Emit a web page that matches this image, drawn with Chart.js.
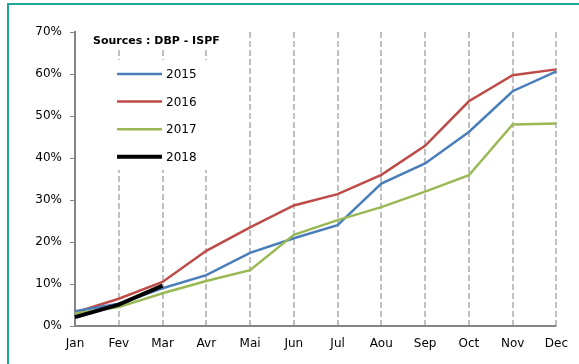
<!DOCTYPE html>
<html>
<head>
<meta charset="utf-8">
<script src="https://cdn.jsdelivr.net/npm/chart.js@4/dist/chart.umd.min.js"></script>
<style>
  html, body { margin: 0; padding: 0; background: #fff; }
  #wrap { position: relative; width: 579px; height: 364px; overflow: hidden; }
  #frame { position: absolute; left: 7px; top: 3px; width: 600px; height: 400px;
           border-top: 2px solid #1fa898; border-left: 2px solid #1fa898; }
  canvas { position: absolute; left: 0; top: 0; }
</style>
</head>
<body>
<div id="wrap">
  <div id="frame"></div>
  <canvas id="chart" width="579" height="364"></canvas>
</div>
<script>
const months = ['Jan', 'Fev', 'Mar', 'Avr', 'Mai', 'Jun', 'Jul', 'Aou', 'Sep', 'Oct', 'Nov', 'Dec'];
const y2015 = [3.5, 5.3, 9.0, 12.1, 17.4, 20.9, 24.0, 33.9, 38.7, 46.2, 55.9, 60.6];
const y2016 = [3.2, 6.5, 10.5, 17.9, 23.5, 28.7, 31.4, 36.0, 42.9, 53.5, 59.7, 61.1];
const y2017 = [3.0, 4.5, 7.8, 10.7, 13.3, 21.7, 25.2, 28.3, 32.0, 35.9, 48.0, 48.2];
const y2018 = [2.1, 5.1, 9.6];
const yTicks = [0, 10, 20, 30, 40, 50, 60, 70];
const sourceText = 'Sources : DBP - ISPF';

const FONT = 'Tahoma, "DejaVu Sans", sans-serif';
Chart.defaults.font.family = FONT;
Chart.defaults.font.size = 12;
Chart.defaults.color = '#000';

// legend box drawn inside the plot, on top of the grid
const boxLegend = {
  id: 'boxLegend',
  beforeDatasetsDraw(chart) {
    const ctx = chart.ctx;
    const area = chart.chartArea;
    ctx.save();
    // solid bottom axis line
    ctx.strokeStyle = '#868686';
    ctx.lineWidth = 2;
    ctx.beginPath();
    ctx.moveTo(area.left, area.bottom);
    ctx.lineTo(area.right, area.bottom);
    ctx.stroke();

    ctx.fillStyle = '#fff';
    ctx.fillRect(86, 30, 144, 19);
    ctx.fillRect(108, 60, 110, 110);
    ctx.fillStyle = '#000';
    ctx.font = 'bold 11px ' + FONT;
    ctx.textBaseline = 'middle';
    ctx.fillText(sourceText, 93, 41);
    ctx.font = '12px ' + FONT;
    chart.data.datasets.forEach((ds, i) => {
      const y = 74 + i * 27.6;
      ctx.strokeStyle = ds.borderColor;
      ctx.lineWidth = ds.borderWidth;
      ctx.beginPath();
      ctx.moveTo(117, y);
      ctx.lineTo(162, y);
      ctx.stroke();
      ctx.fillText(ds.label, 166, y + 1);
    });
    ctx.restore();
  }
};

new Chart(document.getElementById('chart'), {
  type: 'line',
  data: {
    labels: months,
    datasets: [
      { label: '2015', data: y2015, borderColor: '#4a7ebb', borderWidth: 2.5, order: 2 },
      { label: '2016', data: y2016, borderColor: '#be4b48', borderWidth: 2.5, order: 3 },
      { label: '2017', data: y2017, borderColor: '#98b954', borderWidth: 2.5, order: 1 },
      { label: '2018', data: y2018, borderColor: '#000000', borderWidth: 4, order: 0 }
    ]
  },
  options: {
    responsive: false,
    animation: false,
    elements: { point: { radius: 0 }, line: { tension: 0 } },
    layout: { padding: { top: 32, right: 21, left: 0, bottom: 0 } },
    plugins: { legend: { display: false }, tooltip: { enabled: false } },
    scales: {
      x: {
        offset: false,
        afterFit(scale) { scale.height = 38; },
        border: { display: false, dash: [6, 3] },
        grid: {
          color: ctx => ctx.index === 0 ? 'rgba(0,0,0,0)' : '#c0c0c0',
          lineWidth: 2,
          tickLength: 0,
          drawTicks: false
        },
        ticks: { padding: 11, maxRotation: 0, autoSkip: false }
      },
      y: {
        min: 0,
        max: 70,
        afterFit(scale) { scale.width = 75; },
        afterBuildTicks(scale) { scale.ticks = yTicks.map(v => ({ value: v })); },
        border: { color: '#868686', width: 2 },
        grid: { drawOnChartArea: false, color: '#868686', tickLength: 5 },
        ticks: { padding: 8, callback: v => v + '%' }
      }
    }
  },
  plugins: [boxLegend]
});
</script>
</body>
</html>
